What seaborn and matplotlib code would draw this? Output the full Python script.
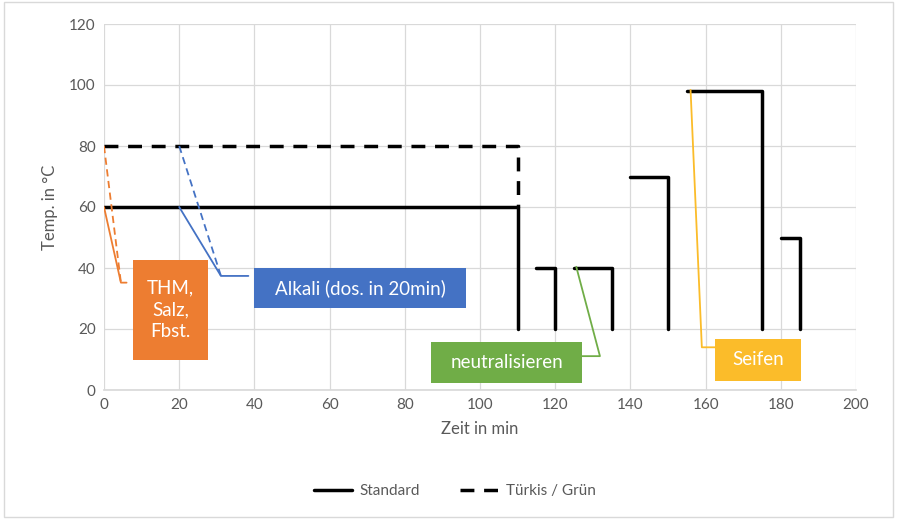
import matplotlib
matplotlib.use("Agg")
import matplotlib.pyplot as plt
from matplotlib.patches import Rectangle
from matplotlib.lines import Line2D
import seaborn as sns
import pandas as pd

# Standard process: (start, end, temperature) steps, each dropping to 20 at the end
std_start = [0, 115, 125, 140, 155, 180]
std_end = [110, 120, 135, 150, 175, 185]
std_temp = [60, 40, 40, 70, 98, 50]
std_floor = 20

# Türkis / Grün: 80 °C until 110 min, then down to 60
tg_x = [0, 110, 110]
tg_y = [80, 80, 60]

# callouts: label, colour, box (x0, x1, y0, y1), anchor points, elbow point, box edge x
call_labels = ["THM,\nSalz,\nFbst.", "Alkali (dos. in 20min)", "neutralisieren", "Seifen"]
call_colors = ["#ED7D31", "#4472C4", "#70AD47", "#FBBC2A"]
call_box_x0 = [7.7, 40, 87, 162.5]
call_box_x1 = [27.7, 96.4, 127.2, 185.3]
call_box_y0 = [9.8, 26.9, 2.2, 3.0]
call_box_y1 = [42.6, 40.0, 15.8, 16.7]
call_solid_from = [(0, 60), (20, 60), (125.6, 40.4), (156, 98.4)]
call_dashed_from = [(0, 80), (20, 80), None, None]
call_elbow = [(4.5, 35.2), (31.1, 37.4), (131.9, 11.1), (159, 14)]
call_tail_x = [6.0, 38.4, 127.2, 162.5]

sns.set_theme(style="white")
plt.rcParams['font.family'] = ['Lato', 'DejaVu Sans']

fig = plt.figure(figsize=(8.97, 5.19), dpi=100)
ax = fig.add_axes([104 / 897, 1 - 390 / 519, 752 / 897, 366 / 519])

grid_c = "#D9D9D9"
text_c = "#595959"

segs = []
for i, (s, e, t) in enumerate(zip(std_start, std_end, std_temp)):
    segs.append(pd.DataFrame({"x": [s, e, e], "y": [t, t, std_floor], "seg": i}))
std_df = pd.concat(segs, ignore_index=True)

sns.lineplot(data=std_df, x="x", y="y", units="seg", estimator=None, sort=False,
             color="black", lw=2.5, ax=ax, zorder=3)
sns.lineplot(x=tg_x, y=tg_y, sort=False, estimator=None, color="black", lw=2.5,
             dashes=False, ax=ax, zorder=3).lines[-1].set_dashes((4, 2.8))

# callouts
for lab, col, bx0, bx1, by0, by1, sf, df, el, tx in zip(
        call_labels, call_colors, call_box_x0, call_box_x1, call_box_y0, call_box_y1,
        call_solid_from, call_dashed_from, call_elbow, call_tail_x):
    ax.plot([sf[0], el[0], tx], [sf[1], el[1], el[1]], color=col, lw=1.3, zorder=4)
    if df is not None:
        ax.plot([df[0], el[0]], [df[1], el[1]], color=col, lw=1.3, ls=(0, (4, 2.5)), zorder=4)
    ax.add_patch(Rectangle((bx0, by0), bx1 - bx0, by1 - by0, facecolor=col,
                           edgecolor="none", zorder=5))
    ax.text((bx0 + bx1) / 2, (by0 + by1) / 2, lab, color="white", fontsize=13.5,
            ha="center", va="center", linespacing=1.35, zorder=6)

ax.set_xlim(0, 200)
ax.set_ylim(0, 120)
ax.set_xticks(range(0, 201, 20))
ax.set_yticks(range(0, 121, 20))
ax.grid(True, color=grid_c, lw=0.9)
ax.set_axisbelow(True)
for sp in ["top", "right", "left"]:
    ax.spines[sp].set_visible(False)
ax.spines["bottom"].set_color(grid_c)
ax.tick_params(axis="both", colors=text_c, labelsize=11, length=0, pad=6)
ax.set_xlabel("Zeit in min", color=text_c, fontsize=12, labelpad=6)
ax.set_ylabel("Temp. in °C", color=text_c, fontsize=12, labelpad=8)

handles = [Line2D([], [], color="black", lw=2.5),
           Line2D([], [], color="black", lw=2.5, dashes=(4, 2.8))]
fig.legend(handles, ["Standard", "Türkis / Grün"], loc="center", ncol=2,
           bbox_to_anchor=(455 / 897, 1 - 491 / 519), frameon=False,
           fontsize=11, labelcolor=text_c, handlelength=2.5, columnspacing=2.6,
           handletextpad=0.5)

fig.patches.append(Rectangle((4 / 897, 2 / 519), 889 / 897, 515 / 519,
                             transform=fig.transFigure, fill=False,
                             edgecolor=grid_c, lw=1))

fig.savefig("out.png", dpi=100)
